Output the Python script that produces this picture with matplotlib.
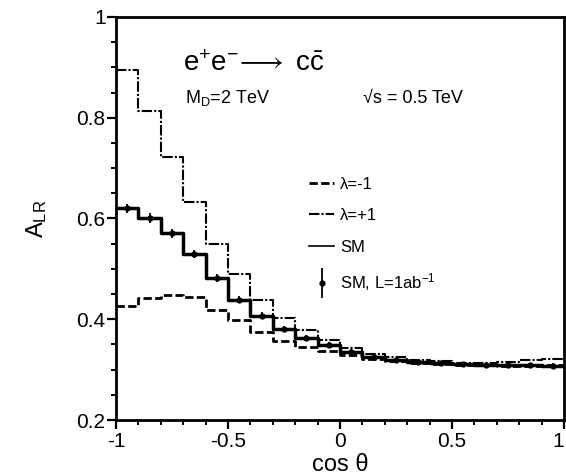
import numpy as np
import matplotlib
matplotlib.use('Agg')
import matplotlib.pyplot as plt
from matplotlib.lines import Line2D
from matplotlib.legend_handler import HandlerErrorbar
from matplotlib.container import ErrorbarContainer
from matplotlib.ticker import MultipleLocator, FuncFormatter

plt.rcParams['font.family'] = ['Liberation Sans', 'DejaVu Sans']
plt.rcParams['mathtext.fontset'] = 'custom'
plt.rcParams['mathtext.rm'] = 'Liberation Sans'
plt.rcParams['mathtext.it'] = 'Liberation Sans:italic'
plt.rcParams['mathtext.fallback'] = 'stixsans'
plt.rcParams['axes.unicode_minus'] = False

# cos(theta) bins, width 0.1
edges = np.round(np.linspace(-1, 1, 21), 2)
centers = 0.5 * (edges[:-1] + edges[1:])

# A_LR per bin
lam_minus = [0.426, 0.443, 0.449, 0.445, 0.419, 0.399, 0.375, 0.357, 0.344, 0.337,
             0.329, 0.321, 0.317, 0.314, 0.312, 0.310, 0.309, 0.308, 0.308, 0.310]
lam_plus = [0.895, 0.814, 0.723, 0.632, 0.550, 0.490, 0.439, 0.403, 0.378, 0.358,
            0.342, 0.332, 0.325, 0.320, 0.317, 0.314, 0.313, 0.315, 0.319, 0.322]
sm = [0.620, 0.601, 0.571, 0.529, 0.481, 0.439, 0.407, 0.380, 0.362, 0.349,
      0.335, 0.326, 0.320, 0.316, 0.313, 0.311, 0.310, 0.309, 0.309, 0.308]
sm_err = [0.009, 0.009, 0.009, 0.008, 0.008, 0.007, 0.007, 0.006, 0.006, 0.005,
          0.005, 0.005, 0.004, 0.004, 0.004, 0.004, 0.004, 0.004, 0.005, 0.005]

fig = plt.figure(figsize=(5.66, 4.76), dpi=100)
ax = fig.add_axes([116 / 566, 56 / 476, 448 / 566, 403 / 476])


def step(vals, **kw):
    return ax.step(edges, list(vals) + [vals[-1]], where='post', **kw)[0]


l_m = step(lam_minus, color='k', lw=2.0, ls=(0, (3, 1.2)))
l_p = step(lam_plus, color='k', lw=1.5, ls=(0, (5, 1.0, 1, 1.0)))
step(sm, color='k', lw=2.5)
eb = ax.errorbar(centers, sm, yerr=sm_err, fmt='o', color='k', ms=3.5,
                 elinewidth=1.3, capsize=0)

sm_proxy = Line2D([], [], color='k', lw=1.2)
ax.legend([l_m, l_p, sm_proxy, eb],
          ['λ=-1', 'λ=+1', 'SM', r'SM, L=1ab$^{\mathregular{-1}}$'],
          loc='upper left', bbox_to_anchor=(0.43, 0.604), frameon=False,
          fontsize=12, handlelength=1.55, handletextpad=0.35,
          labelspacing=1.0, borderpad=0, borderaxespad=0,
          handler_map={ErrorbarContainer: HandlerErrorbar(yerr_size=0.9)})

ax.text(-0.70, 0.893,
        r'e$^{\mathregular{+}}$e$^{\mathregular{-}}\!\longrightarrow$ c$\bar{\mathregular{c}}$',
        fontsize=20, va='baseline')
ax.text(-0.69, 0.830, r'$\mathregular{M_D}$=2 TeV', fontsize=13, va='baseline')
ax.text(0.103, 0.830, '√s = 0.5 TeV', fontsize=13, va='baseline')

ax.set_xlim(-1, 1)
ax.set_ylim(0.2, 1.0)
ax.xaxis.set_major_locator(MultipleLocator(0.5))
ax.xaxis.set_minor_locator(MultipleLocator(0.1))
ax.yaxis.set_major_locator(MultipleLocator(0.2))
ax.yaxis.set_minor_locator(MultipleLocator(0.05))
fmt = FuncFormatter(lambda v, p: '%g' % round(v, 2))
ax.xaxis.set_major_formatter(fmt)
ax.yaxis.set_major_formatter(fmt)
ax.tick_params(which='major', direction='out', length=6.5, width=1.6,
               labelsize=15, pad=1)
ax.tick_params(axis='x', which='major', pad=2)
ax.tick_params(which='minor', direction='out', length=3.5, width=1.4)
for s in ax.spines.values():
    s.set_linewidth(2.0)

ax.set_ylabel(r'$\mathregular{A_{LR}}$', fontsize=17, labelpad=20)
ax.set_xlabel('cos θ', fontsize=17, labelpad=2)

# keep the "1" at the right end inside the picture
fig.canvas.draw()
for lab in ax.get_xticklabels():
    if lab.get_text() == '1':
        lab.set_horizontalalignment('right')

fig.savefig('out.png', dpi=100)
